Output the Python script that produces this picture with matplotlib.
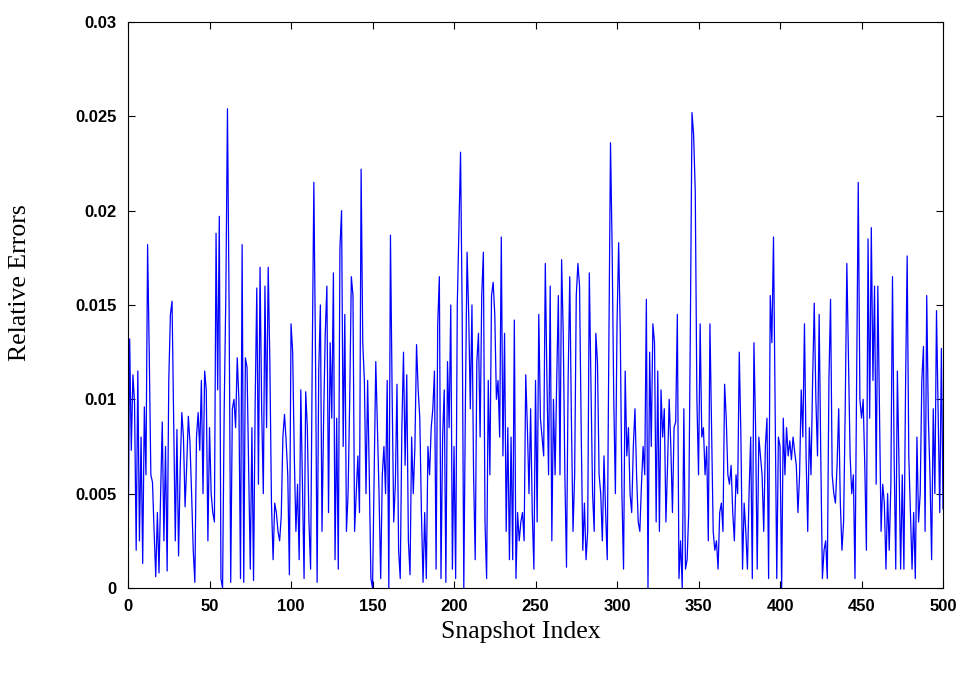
import numpy as np
import matplotlib
matplotlib.use("Agg")
import matplotlib.pyplot as plt

# relative error per snapshot (index 0..500)
err_a = [0.0013, 0.0132, 0.0073, 0.0113, 0.0098, 0.0020, 0.0115, 0.0025, 0.0080, 0.0013,
         0.0096, 0.0060, 0.0182, 0.0125, 0.0060, 0.0056, 0.0030, 0.0006, 0.0040, 0.0008,
         0.0050, 0.0088, 0.0025, 0.0075, 0.0009, 0.0110, 0.0145, 0.0152, 0.0088, 0.0025,
         0.0084, 0.0017, 0.0063, 0.0093, 0.0080, 0.0043, 0.0065, 0.0091, 0.0077, 0.0050,
         0.0020, 0.0003]
err_b = [0.0080, 0.0093, 0.0073, 0.0110, 0.0050, 0.0115, 0.0105, 0.0025, 0.0085, 0.0050,
         0.0040, 0.0035, 0.0188, 0.0105, 0.0197, 0.0005, 0.0000, 0.0095, 0.0155, 0.0254,
         0.0150, 0.0003, 0.0095, 0.0100, 0.0085, 0.0122, 0.0100, 0.0005, 0.0182, 0.0003,
         0.0122, 0.0117, 0.0064, 0.0010, 0.0085, 0.0004, 0.0098, 0.0159, 0.0055, 0.0170,
         0.0094, 0.0050, 0.0160]
err_c = [0.0085, 0.0170, 0.0120, 0.0045, 0.0015, 0.0045, 0.0040, 0.0030, 0.0025, 0.0038,
         0.0080, 0.0092, 0.0078, 0.0060, 0.0007, 0.0140, 0.0125, 0.0070, 0.0030, 0.0055,
         0.0015, 0.0105, 0.0055, 0.0005, 0.0104, 0.0085, 0.0035, 0.0010, 0.0120, 0.0215,
         0.0125, 0.0003, 0.0115, 0.0150, 0.0030, 0.0090, 0.0135, 0.0160, 0.0040, 0.0130,
         0.0090, 0.0167]
err_d = [0.0015, 0.0090, 0.0010, 0.0180, 0.0200, 0.0075, 0.0145, 0.0030, 0.0050, 0.0100,
         0.0165, 0.0155, 0.0030, 0.0050, 0.0070, 0.0040, 0.0222, 0.0130, 0.0110, 0.0050,
         0.0110, 0.0060, 0.0005, 0.0000, 0.0060, 0.0120, 0.0085, 0.0050, 0.0005, 0.0060,
         0.0075, 0.0050, 0.0110, 0.0000, 0.0187, 0.0105, 0.0035, 0.0055, 0.0108, 0.0020]
err_e = [0.0005, 0.0085, 0.0125, 0.0065, 0.0113, 0.0025, 0.0007, 0.0080, 0.0050, 0.0075,
         0.0129, 0.0105, 0.0090, 0.0040, 0.0003, 0.0040, 0.0005, 0.0075, 0.0060, 0.0085,
         0.0095, 0.0115, 0.0010, 0.0140, 0.0165, 0.0005, 0.0080, 0.0105, 0.0003, 0.0120,
         0.0085, 0.0150, 0.0010, 0.0075, 0.0005, 0.0150, 0.0190, 0.0231, 0.0145, 0.0000,
         0.0100, 0.0178]
err_f = [0.0145, 0.0095, 0.0150, 0.0060, 0.0015, 0.0120, 0.0135, 0.0080, 0.0155, 0.0178,
         0.0035, 0.0005, 0.0110, 0.0060, 0.0155, 0.0162, 0.0145, 0.0100, 0.0110, 0.0080,
         0.0186, 0.0070, 0.0135, 0.0030, 0.0085, 0.0015, 0.0080, 0.0015, 0.0142, 0.0005,
         0.0040, 0.0025, 0.0035, 0.0040, 0.0025, 0.0113, 0.0085, 0.0050, 0.0095, 0.0040,
         0.0010, 0.0110]
err_g = [0.0035, 0.0145, 0.0090, 0.0080, 0.0070, 0.0172, 0.0110, 0.0060, 0.0160, 0.0025,
         0.0100, 0.0060, 0.0110, 0.0155, 0.0060, 0.0174, 0.0135, 0.0060, 0.0011, 0.0110,
         0.0165, 0.0090, 0.0030, 0.0060, 0.0155, 0.0172, 0.0160, 0.0085, 0.0020, 0.0045,
         0.0015, 0.0030, 0.0167, 0.0110, 0.0050, 0.0030, 0.0135, 0.0120, 0.0060, 0.0050]
err_h = [0.0025, 0.0070, 0.0040, 0.0015, 0.0130, 0.0236, 0.0180, 0.0100, 0.0050, 0.0140,
         0.0183, 0.0135, 0.0050, 0.0010, 0.0115, 0.0070, 0.0085, 0.0050, 0.0040, 0.0075,
         0.0095, 0.0060, 0.0035, 0.0030, 0.0055, 0.0075, 0.0060, 0.0153, 0.0000, 0.0125,
         0.0075, 0.0140, 0.0130, 0.0035, 0.0115, 0.0030, 0.0105, 0.0080, 0.0095, 0.0035,
         0.0065, 0.0100, 0.0075]
err_i = [0.0040, 0.0085, 0.0088, 0.0145, 0.0005, 0.0025, 0.0000, 0.0095, 0.0010, 0.0015,
         0.0040, 0.0139, 0.0252, 0.0240, 0.0210, 0.0100, 0.0060, 0.0140, 0.0080, 0.0085,
         0.0060, 0.0075, 0.0025, 0.0140, 0.0085, 0.0030, 0.0020, 0.0025, 0.0010, 0.0040,
         0.0045, 0.0030, 0.0108, 0.0090, 0.0060, 0.0055, 0.0065, 0.0040, 0.0025, 0.0060,
         0.0050, 0.0125]
err_j = [0.0080, 0.0010, 0.0045, 0.0030, 0.0010, 0.0050, 0.0080, 0.0005, 0.0130, 0.0085,
         0.0010, 0.0080, 0.0070, 0.0060, 0.0030, 0.0075, 0.0090, 0.0005, 0.0155, 0.0130,
         0.0186, 0.0095, 0.0005, 0.0080, 0.0075, 0.0000, 0.0090, 0.0060, 0.0085, 0.0070,
         0.0078, 0.0068, 0.0080, 0.0072, 0.0065, 0.0040, 0.0060, 0.0105, 0.0080, 0.0140,
         0.0070, 0.0030]
err_k = [0.0085, 0.0060, 0.0110, 0.0151, 0.0100, 0.0070, 0.0145, 0.0070, 0.0005, 0.0020,
         0.0025, 0.0005, 0.0110, 0.0153, 0.0060, 0.0050, 0.0045, 0.0065, 0.0095, 0.0045,
         0.0020, 0.0035, 0.0095, 0.0172, 0.0120, 0.0070, 0.0050, 0.0060, 0.0005, 0.0110,
         0.0215, 0.0100, 0.0090, 0.0100, 0.0065, 0.0020, 0.0185, 0.0090, 0.0191, 0.0110,
         0.0160]
err_l = [0.0055, 0.0160, 0.0095, 0.0030, 0.0055, 0.0045, 0.0010, 0.0050, 0.0020, 0.0055,
         0.0165, 0.0070, 0.0010, 0.0115, 0.0065, 0.0010, 0.0060, 0.0010, 0.0105, 0.0176,
         0.0070, 0.0040, 0.0010, 0.0040, 0.0005, 0.0080, 0.0035, 0.0050, 0.0110, 0.0128,
         0.0030, 0.0155, 0.0090, 0.0060, 0.0015, 0.0095, 0.0050, 0.0147, 0.0095, 0.0040,
         0.0127, 0.0042]

errors = np.array(err_a + err_b + err_c + err_d + err_e + err_f +
                  err_g + err_h + err_i + err_j + err_k + err_l)
snapshots = np.arange(len(errors))

xticks = [0, 50, 100, 150, 200, 250, 300, 350, 400, 450, 500]
yticks = [0, 0.005, 0.01, 0.015, 0.02, 0.025, 0.03]
ytick_labels = ['0', '0.005', '0.01', '0.015', '0.02', '0.025', '0.03']

fig = plt.figure(figsize=(9.67, 6.74), dpi=100)
ax = fig.add_axes([0.1324, 0.1276, 0.8428, 0.8398])

ax.plot(snapshots, errors, color='#0000ff', linewidth=0.9)

ax.set_xlim(0, 500)
ax.set_ylim(0, 0.03)
ax.set_xticks(xticks)
ax.set_yticks(yticks)
ax.set_yticklabels(ytick_labels)
ax.tick_params(direction='in', length=5, width=0.8, top=True, right=True,
               labelsize=12, pad=8)
for lab in ax.get_xticklabels() + ax.get_yticklabels():
    lab.set_fontweight('bold')
    lab.set_family('Liberation Sans')
for sp in ax.spines.values():
    sp.set_linewidth(0.8)

ax.set_xlabel('Snapshot Index', family='Liberation Serif', fontsize=18.5)
ax.set_ylabel('Relative Errors', family='Liberation Serif', fontsize=18.5)
ax.xaxis.label.set_verticalalignment('center')
ax.yaxis.label.set_verticalalignment('center')
ax.xaxis.set_label_coords(0.482, -0.078)
ax.yaxis.set_label_coords(-0.1325, 0.54)

fig.savefig('out.png', dpi=100)
